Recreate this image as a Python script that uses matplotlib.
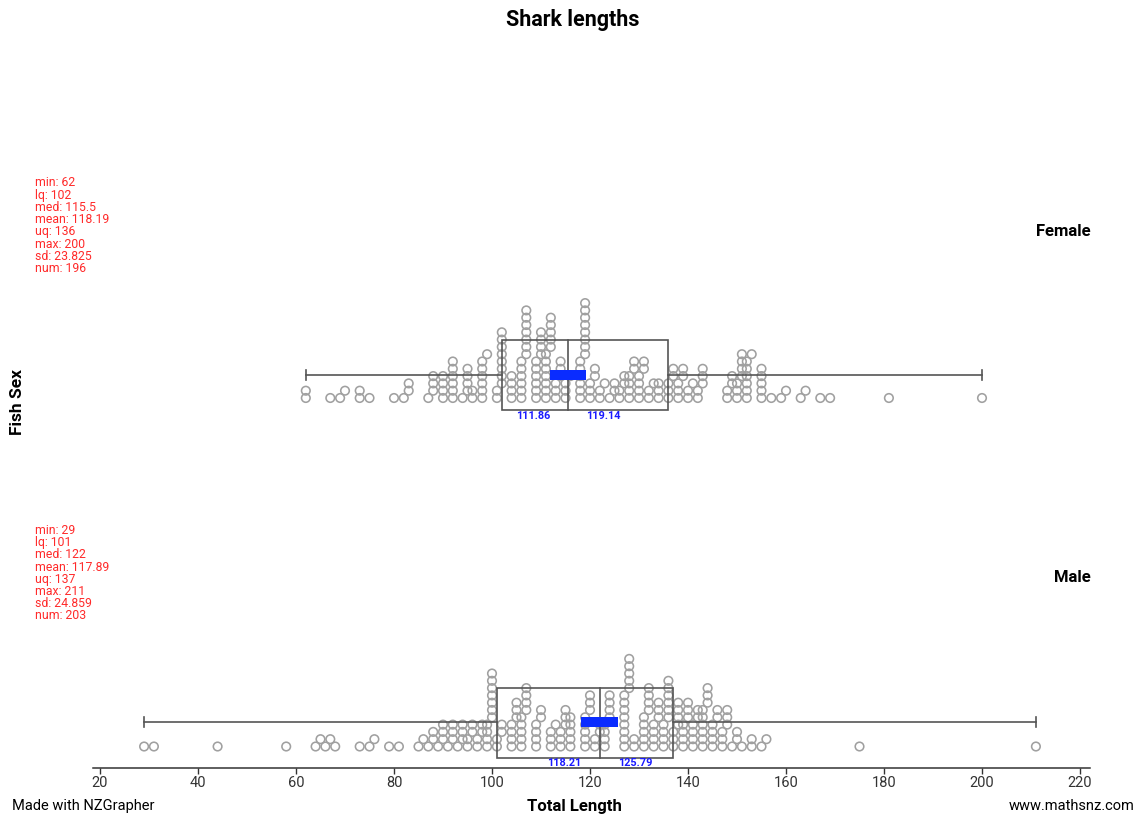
import numpy as np
import matplotlib
matplotlib.use("Agg")
import matplotlib.pyplot as plt
from matplotlib.patches import Rectangle

plt.rcParams['font.family'] = ['Roboto', 'DejaVu Sans']

# ---------------- data ----------------
female_values = [62, 67, 69, 70, 73, 75, 80, 82, 83, 87, 88, 90, 92, 94, 95, 96, 98, 99,
                 101, 102, 104, 106, 107, 109, 110, 111, 112, 113, 114, 115, 116,
                 118, 119, 120, 121, 122, 123, 124, 125, 126, 127, 128, 129, 130, 131,
                 132, 133, 134, 136, 137, 138, 139, 140, 141, 142, 143, 148, 149, 150,
                 151, 152, 153, 155, 157, 159, 160, 163, 164, 167, 169, 181, 200]
female_counts = [2, 1, 1, 1, 2, 1, 1, 1, 2, 1, 3, 4, 6, 1, 4, 2, 6, 1,
                 2, 8, 4, 6, 7, 6, 4, 7, 5, 3, 3, 3, 1,
                 6, 8, 3, 2, 2, 1, 1, 2, 2, 2, 4, 2, 4, 2,
                 2, 1, 3, 3, 2, 3, 2, 2, 1, 2, 3, 2, 2, 3,
                 4, 6, 1, 5, 1, 1, 1, 1, 1, 1, 1, 1, 1]

male_values = [29, 31, 44, 58, 64, 65, 66, 67, 68, 73, 75, 76, 79, 81, 85, 86,
               87, 88, 89, 90, 91, 92, 93, 94, 95, 96, 97, 98, 99, 100,
               101, 102, 104, 105, 106, 107, 109, 110, 112, 113, 114, 115, 116,
               119, 120, 121, 122, 123, 124, 127, 128, 129, 131, 132, 133, 134,
               135, 136, 137, 138, 139, 140, 141, 142, 143, 144, 145, 146, 147, 148,
               149, 150, 151, 153, 155, 156, 175, 211]
male_counts = [1, 1, 1, 1, 1, 1, 1, 1, 1, 1, 1, 1, 1, 1, 1, 1,
               1, 2, 1, 3, 1, 3, 1, 3, 2, 2, 2, 2, 4, 7,
               2, 2, 4, 3, 5, 4, 4, 2, 3, 1, 3, 3, 5,
               5, 3, 2, 2, 4, 4, 8, 5, 2, 5, 4, 4, 3,
               4, 6, 3, 4, 4, 3, 4, 2, 6, 3, 4, 2, 3, 3,
               1, 2, 1, 2, 1, 1, 1, 1]

groups = ["Female", "Male"]
stat_names = ["min", "lq", "med", "mean", "uq", "max", "sd", "num"]
female_stats = ["62", "102", "115.5", "118.19", "136", "200", "23.825", "196"]
male_stats = ["29", "101", "122", "117.89", "137", "211", "24.859", "203"]
female_box = [62, 102, 115.5, 136, 200]
male_box = [29, 101, 122, 137, 211]
female_ci = [111.86, 119.14]
male_ci = [118.21, 125.79]
ticks = [20, 40, 60, 80, 100, 120, 140, 160, 180, 200, 220]

# ---------------- layout ----------------
W, H = 1142, 818
fig = plt.figure(figsize=(W / 100, H / 100), dpi=100)
ax_left, ax_right, ax_bottom, ax_top = 93, 1090, 768, 40
ax = fig.add_axes([ax_left / W, (H - ax_bottom) / H, (ax_right - ax_left) / W,
                   (ax_bottom - ax_top) / H])
ax.set_xlim(18.571, 222.04)
ax.set_ylim(ax_bottom, ax_top)
for s in ["top", "left", "right"]:
    ax.spines[s].set_visible(False)
ax.spines["bottom"].set_color("#333333")
ax.spines["bottom"].set_linewidth(1.1)
ax.set_yticks([])
ax.set_xticks(ticks)
ax.set_xticklabels([str(t) for t in ticks], fontsize=10.5, color="#333333")
ax.tick_params(axis="x", direction="out", length=4, width=1, color="#333333", pad=2)


def stack(values, counts, w=2.0):
    vals = np.repeat(np.array(values, float), counts)
    vals.sort()
    xs, rows = [], []
    start = None
    r = 0
    for v in vals:
        if start is None or v >= start + w - 1e-9:
            start = v
            r = 0
        xs.append(v)
        rows.append(r)
        r += 1
    return np.array(xs), np.array(rows)


params = [
    dict(vals=female_values, cnts=female_counts, box=female_box, ci=female_ci,
         stats=female_stats, base=398, wy=375, btop=340, bbot=410, label_y=231,
         stat_y=183, ci_y=416),
    dict(vals=male_values, cnts=male_counts, box=male_box, ci=male_ci,
         stats=male_stats, base=746.5, wy=722, btop=688, bbot=758, label_y=578,
         stat_y=530.5, ci_y=763),
]

row_gap = 7.3
line_c = "#555555"
for g, p in zip(groups, params):
    xs, rows = stack(p["vals"], p["cnts"])
    ax.scatter(xs, p["base"] - rows * row_gap, s=38, facecolors="none",
               edgecolors="#a0a0a0", linewidths=1.15, zorder=2, clip_on=False)
    mn, lq, md, uq, mx = p["box"]
    ax.plot([mn, lq], [p["wy"], p["wy"]], color=line_c, lw=1.2, zorder=3)
    ax.plot([uq, mx], [p["wy"], p["wy"]], color=line_c, lw=1.2, zorder=3)
    for e in (mn, mx):
        ax.plot([e, e], [p["wy"] - 5, p["wy"] + 5], color=line_c, lw=1.2, zorder=3)
    ax.add_patch(Rectangle((lq, p["btop"]), uq - lq, p["bbot"] - p["btop"],
                           fill=False, edgecolor=line_c, lw=1.2, zorder=3))
    ax.plot([md, md], [p["btop"], p["bbot"]], color=line_c, lw=1.2, zorder=3)
    c0, c1 = p["ci"]
    ax.add_patch(Rectangle((c0, p["wy"] - 5), c1 - c0, 10, facecolor="#0a2cff",
                           edgecolor="none", zorder=4))
    ax.text(c0, p["ci_y"], f"{c0:.2f}", ha="right", va="center", fontsize=7.8,
            fontweight="bold", color="#1a1aff")
    ax.text(c1, p["ci_y"], f"{c1:.2f}", ha="left", va="center", fontsize=7.8,
            fontweight="bold", color="#1a1aff")
    fig.text(1091 / W, 1 - p["label_y"] / H, g, ha="right", va="center",
             fontsize=12, fontweight="bold", color="black")
    for i, (n, v) in enumerate(zip(stat_names, p["stats"])):
        fig.text(35 / W, 1 - (p["stat_y"] + i * 12.2) / H, f"{n}: {v}", ha="left",
                 va="center", fontsize=8.8, color="#ff2a2a")

fig.text(573 / W, 1 - 20 / H, "Shark lengths", ha="center", va="center",
         fontsize=15.5, fontweight="bold")
fig.text(18 / W, 1 - 402 / H, "Fish Sex", ha="center", va="center", rotation=90,
         fontsize=12.5, fontweight="bold")
fig.text(574 / W, 1 - 806 / H, "Total Length", ha="center", va="center",
         fontsize=12, fontweight="bold")
fig.text(12 / W, 1 - 806 / H, "Made with NZGrapher", ha="left", va="center",
         fontsize=10.5)
fig.text(1135 / W, 1 - 806 / H, "www.mathsnz.com", ha="right", va="center",
         fontsize=10.5)

fig.savefig("out.png", dpi=100, facecolor="white")
